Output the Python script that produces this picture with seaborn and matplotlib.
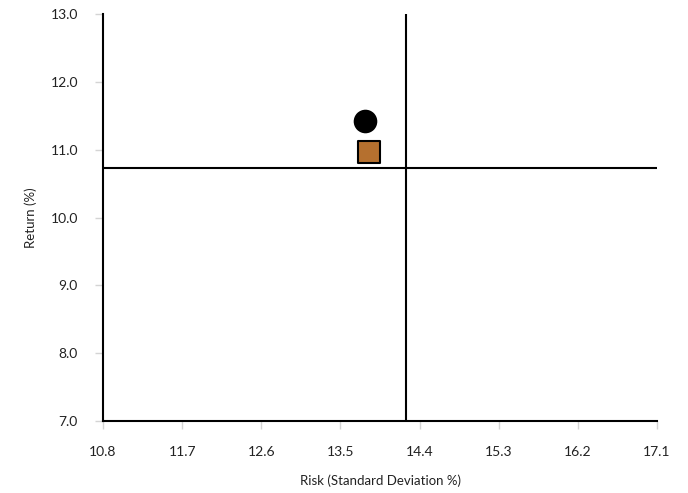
import matplotlib
matplotlib.use("Agg")
import pandas as pd
import seaborn as sns
from matplotlib import pyplot as plt

# Data
names = ["Portfolio A", "Portfolio B"]
risk = [13.78, 13.82]
ret = [11.43, 10.97]
markers = ["o", "s"]
colors = ["#000000", "#B5702F"]

# Average lines (quadrant split)
avg_risk = 14.25
avg_return = 10.73

x_ticks = [10.8, 11.7, 12.6, 13.5, 14.4, 15.3, 16.2, 17.1]
y_ticks = [7.0, 8.0, 9.0, 10.0, 11.0, 12.0, 13.0]

df = pd.DataFrame({"name": names, "risk": risk, "ret": ret})

sns.set_style("white")
plt.rcParams["font.family"] = ["Lato", "DejaVu Sans"]

fig = plt.figure(figsize=(6.88, 4.93), dpi=100)
ax = fig.add_axes([0.1497, 0.146, 0.8053, 0.8256])

for i, row in df.iterrows():
    sns.scatterplot(x=[row["risk"]], y=[row["ret"]], marker=markers[i], color=colors[i],
                    s=240 if markers[i] == "o" else 260, edgecolor="black",
                    linewidth=1.5, ax=ax, zorder=3, legend=False)

ax.axvline(avg_risk, color="black", lw=1.5, zorder=2)
ax.axhline(avg_return, color="black", lw=1.5, zorder=2)

ax.set_xlim(10.8, 17.1)
ax.set_ylim(7.0, 13.0)
ax.set_xticks(x_ticks)
ax.set_xticklabels([f"{v:.1f}" for v in x_ticks])
ax.set_yticks(y_ticks)
ax.set_yticklabels([f"{v:.1f}" for v in y_ticks])

for side in ["top", "right"]:
    ax.spines[side].set_visible(False)
for side in ["left", "bottom"]:
    ax.spines[side].set_color("black")
    ax.spines[side].set_linewidth(1.5)

# light grey outside ticks, set a little away from the spines
ax.tick_params(axis="both", which="major", direction="out", length=6, width=1,
               color="#d4d4d4", labelsize=10, labelcolor="#222222",
               bottom=True, left=True)
ax.xaxis.set_tick_params(pad=12)
ax.yaxis.set_tick_params(pad=12)
for t in ax.xaxis.get_major_ticks():
    t.tick1line.set_markersize(6)
ax.spines["left"].set_position(("outward", 0))

ax.set_xlabel("Risk (Standard Deviation %)", fontsize=9.5, color="#222222", labelpad=12)
ax.set_ylabel("Return (%)", fontsize=9.5, color="#222222", labelpad=10)

fig.savefig("out.png", dpi=100)
